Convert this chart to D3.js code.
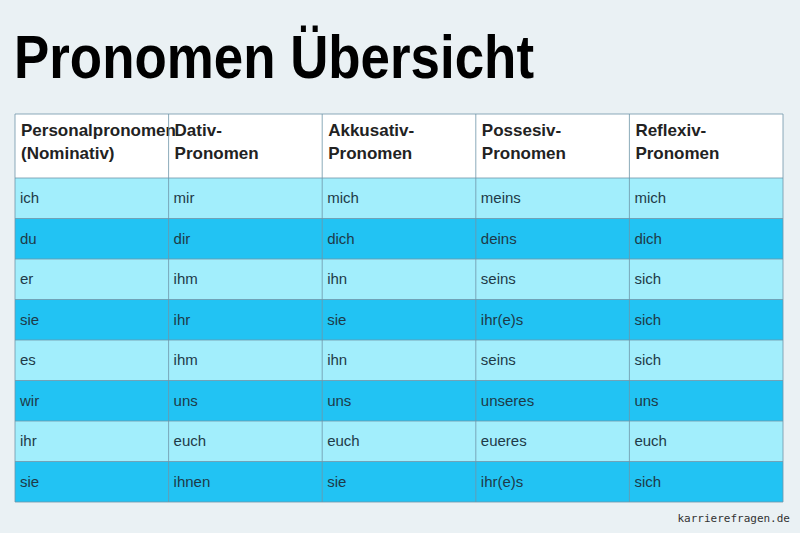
<!DOCTYPE html>
<html><head><meta charset="utf-8">
<script src="https://cdn.jsdelivr.net/npm/d3@7"></script>
<style>body{margin:0;background:#eaf1f4}</style>
</head><body>
<script>
const title = 'Pronomen Übersicht';
const headers = [['Personalpronomen', '(Nominativ)'], ['Dativ-', 'Pronomen'], ['Akkusativ-', 'Pronomen'], ['Possesiv-', 'Pronomen'], ['Reflexiv-', 'Pronomen']];
const rows = [
    ['ich', 'mir', 'mich', 'meins', 'mich'],
    ['du', 'dir', 'dich', 'deins', 'dich'],
    ['er', 'ihm', 'ihn', 'seins', 'sich'],
    ['sie', 'ihr', 'sie', 'ihr(e)s', 'sich'],
    ['es', 'ihm', 'ihn', 'seins', 'sich'],
    ['wir', 'uns', 'uns', 'unseres', 'uns'],
    ['ihr', 'euch', 'euch', 'eueres', 'euch'],
    ['sie', 'ihnen', 'sie', 'ihr(e)s', 'sich']
];
const source = 'karrierefragen.de';

const svg = d3.select(document.body).append('svg')
    .attr('width', 800).attr('height', 533);
svg.append('rect').attr('width', 800).attr('height', 533).attr('fill', '#eaf1f4');

svg.append('text').attr('x', 14).attr('y', 78)
    .attr('font-family', '"Liberation Sans Narrow", "Liberation Sans", sans-serif')
    .attr('font-weight', 'bold').attr('font-size', 62)
    .attr('textLength', 520).attr('lengthAdjust', 'spacingAndGlyphs')
    .attr('fill', '#000').text(title);

const x = d3.scaleBand().domain(d3.range(headers.length)).range([15, 783]);
const headerTop = 114, headerH = 64;
const y = d3.scaleBand().domain(d3.range(rows.length)).range([headerTop + headerH, 502]);

const g = svg.append('g');
g.append('rect').attr('x', 15).attr('y', headerTop).attr('width', 768).attr('height', headerH).attr('fill', '#fff');

g.selectAll('rect.row').data(rows).enter().append('rect').attr('class', 'row')
    .attr('x', 15).attr('y', (d, i) => y(i)).attr('width', 768).attr('height', y.bandwidth())
    .attr('fill', (d, i) => i % 2 ? '#22c3f3' : '#a2eefc');

headers.forEach((h, c) => {
    h.forEach((line, k) => {
        g.append('text').attr('x', x(c) + 6).attr('y', headerTop + 22 + k * 23)
            .attr('font-family', '"Liberation Sans Narrow", "Liberation Sans", sans-serif')
            .attr('font-weight', 'bold').attr('font-size', 17).attr('fill', '#222')
            .text(line);
    });
});

rows.forEach((r, i) => {
    r.forEach((v, c) => {
        g.append('text').attr('x', x(c) + 5).attr('y', y(i) + y.bandwidth() / 2 + 5)
            .attr('font-family', 'Helvetica, "Liberation Sans", Arial, sans-serif')
            .attr('font-size', 15).attr('fill', '#1e3a48').text(v);
    });
});

// grid lines
const lines = g.append('g').attr('stroke', '#6f96a8').attr('stroke-width', 0.8);
d3.range(headers.length + 1).forEach(c => {
    const xx = c < headers.length ? x(c) : 783;
    lines.append('line').attr('x1', xx).attr('x2', xx).attr('y1', headerTop).attr('y2', 502);
});
[headerTop].concat(d3.range(rows.length).map(i => y(i)), [502]).forEach(yy => {
    lines.append('line').attr('x1', 15).attr('x2', 783).attr('y1', yy).attr('y2', yy);
});

svg.append('text').attr('x', 790).attr('y', 522).attr('text-anchor', 'end')
    .attr('font-family', '"DejaVu Sans Mono", monospace').attr('font-size', 11)
    .attr('fill', '#333').text(source);
</script>
</body></html>
